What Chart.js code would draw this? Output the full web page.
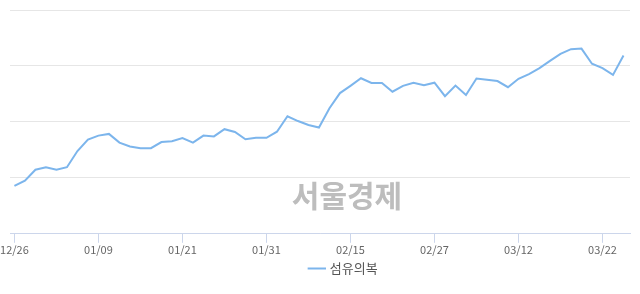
<!DOCTYPE html>
<html>
<head>
<meta charset="utf-8">
<script src="https://cdn.jsdelivr.net/npm/chart.js@4"></script>
<style>
  html, body { margin: 0; padding: 0; background: #fff; }
  #wrap { width: 640px; height: 294px; }
</style>
</head>
<body>
<div id="wrap"><canvas id="myChart"></canvas></div>
<script>
// trading days 2018-12-26 .. 2019-03-26
const dates = [
  '12/26','12/27','12/28','01/02','01/03','01/04','01/07','01/08','01/09','01/10',
  '01/11','01/14','01/15','01/16','01/17','01/18','01/21','01/22','01/23','01/24',
  '01/25','01/28','01/29','01/30','01/31','02/01','02/07','02/08','02/11','02/12',
  '02/13','02/14','02/15','02/18','02/19','02/20','02/21','02/22','02/25','02/26',
  '02/27','02/28','03/04','03/05','03/06','03/07','03/08','03/11','03/12','03/13',
  '03/14','03/15','03/18','03/19','03/20','03/21','03/22','03/25','03/26'
];

const values = [
  217.1, 219.0, 222.9, 223.8, 222.9, 223.8, 229.6, 233.7, 235.1, 235.7,
  232.6, 231.2, 230.6, 230.6, 232.8, 233.1, 234.2, 232.6, 235.1, 234.8,
  237.4, 236.4, 233.8, 234.3, 234.3, 236.5, 242.0, 240.3, 238.9, 238.0,
  244.9, 250.3, 252.9, 255.6, 253.9, 253.9, 250.8, 252.9, 254.0, 253.1,
  254.0, 249.2, 253.0, 249.6, 255.5, 255.1, 254.6, 252.4, 255.4, 257.1,
  259.2, 261.8, 264.3, 266.0, 266.2, 260.8, 259.2, 256.8, 263.7
];

const seriesName = '섬유의복';
const tickEvery = 8;

const points = values.map((v, i) => ({ x: i, y: v }));

const watermark = {
  id: 'watermark',
  beforeDatasetsDraw(chart) {
    const ctx = chart.ctx;
    ctx.save();
    ctx.font = 'bold 30px "Noto Sans CJK KR", sans-serif';
    ctx.fillStyle = '#bdbdbd';
    ctx.textAlign = 'center';
    ctx.textBaseline = 'middle';
    ctx.fillText('서울경제', 347, 196);
    ctx.restore();
  }
};

// legend in the original sits a bit right of centre
const legendShift = {
  id: 'legendShift',
  afterLayout(chart) {
    chart.legend.left += 24;
    chart.legend.right += 24;
  }
};

const data = {
  datasets: [{
    label: seriesName,
    data: points,
    borderColor: '#7cb5ec',
    backgroundColor: '#7cb5ec',
    borderWidth: 2,
    pointRadius: 0,
    tension: 0,
    fill: false
  }]
};

const config = {
  type: 'line',
  data,
  options: {
    responsive: true,
    maintainAspectRatio: false,
    animation: false,
    layout: { padding: { left: 10, right: 10, top: 10, bottom: 9 } },
    plugins: {
      tooltip: { enabled: false },
      legend: {
        position: 'bottom',
        labels: {
          usePointStyle: true,
          pointStyle: 'line',
          boxWidth: 16,
          padding: 6,
          color: '#555',
          font: { family: '"Noto Sans CJK KR", sans-serif', size: 13 }
        }
      }
    },
    scales: {
      x: {
        type: 'linear',
        min: -0.4,
        max: values.length - 1 + 0.62,
        afterBuildTicks(scale) {
          const t = [];
          for (let i = 0; i < dates.length; i += tickEvery) t.push({ value: i });
          scale.ticks = t;
        },
        ticks: {
          autoSkip: false,
          maxRotation: 0,
          padding: 0,
          color: '#666',
          font: { family: '"Noto Sans CJK KR", sans-serif', size: 11 },
          callback: (v) => dates[v]
        },
        grid: {
          drawOnChartArea: false,
          drawTicks: true,
          tickLength: 9,
          color: '#ccd6eb'
        },
        border: { color: '#ccd6eb' }
      },
      y: {
        min: 200,
        max: 280,
        ticks: { display: false, stepSize: 20 },
        grid: { color: '#e6e6e6', drawTicks: false },
        border: { display: false }
      }
    }
  },
  plugins: [watermark, legendShift]
};

var myChart = new Chart(document.getElementById('myChart'), config);
</script>
</body>
</html>
